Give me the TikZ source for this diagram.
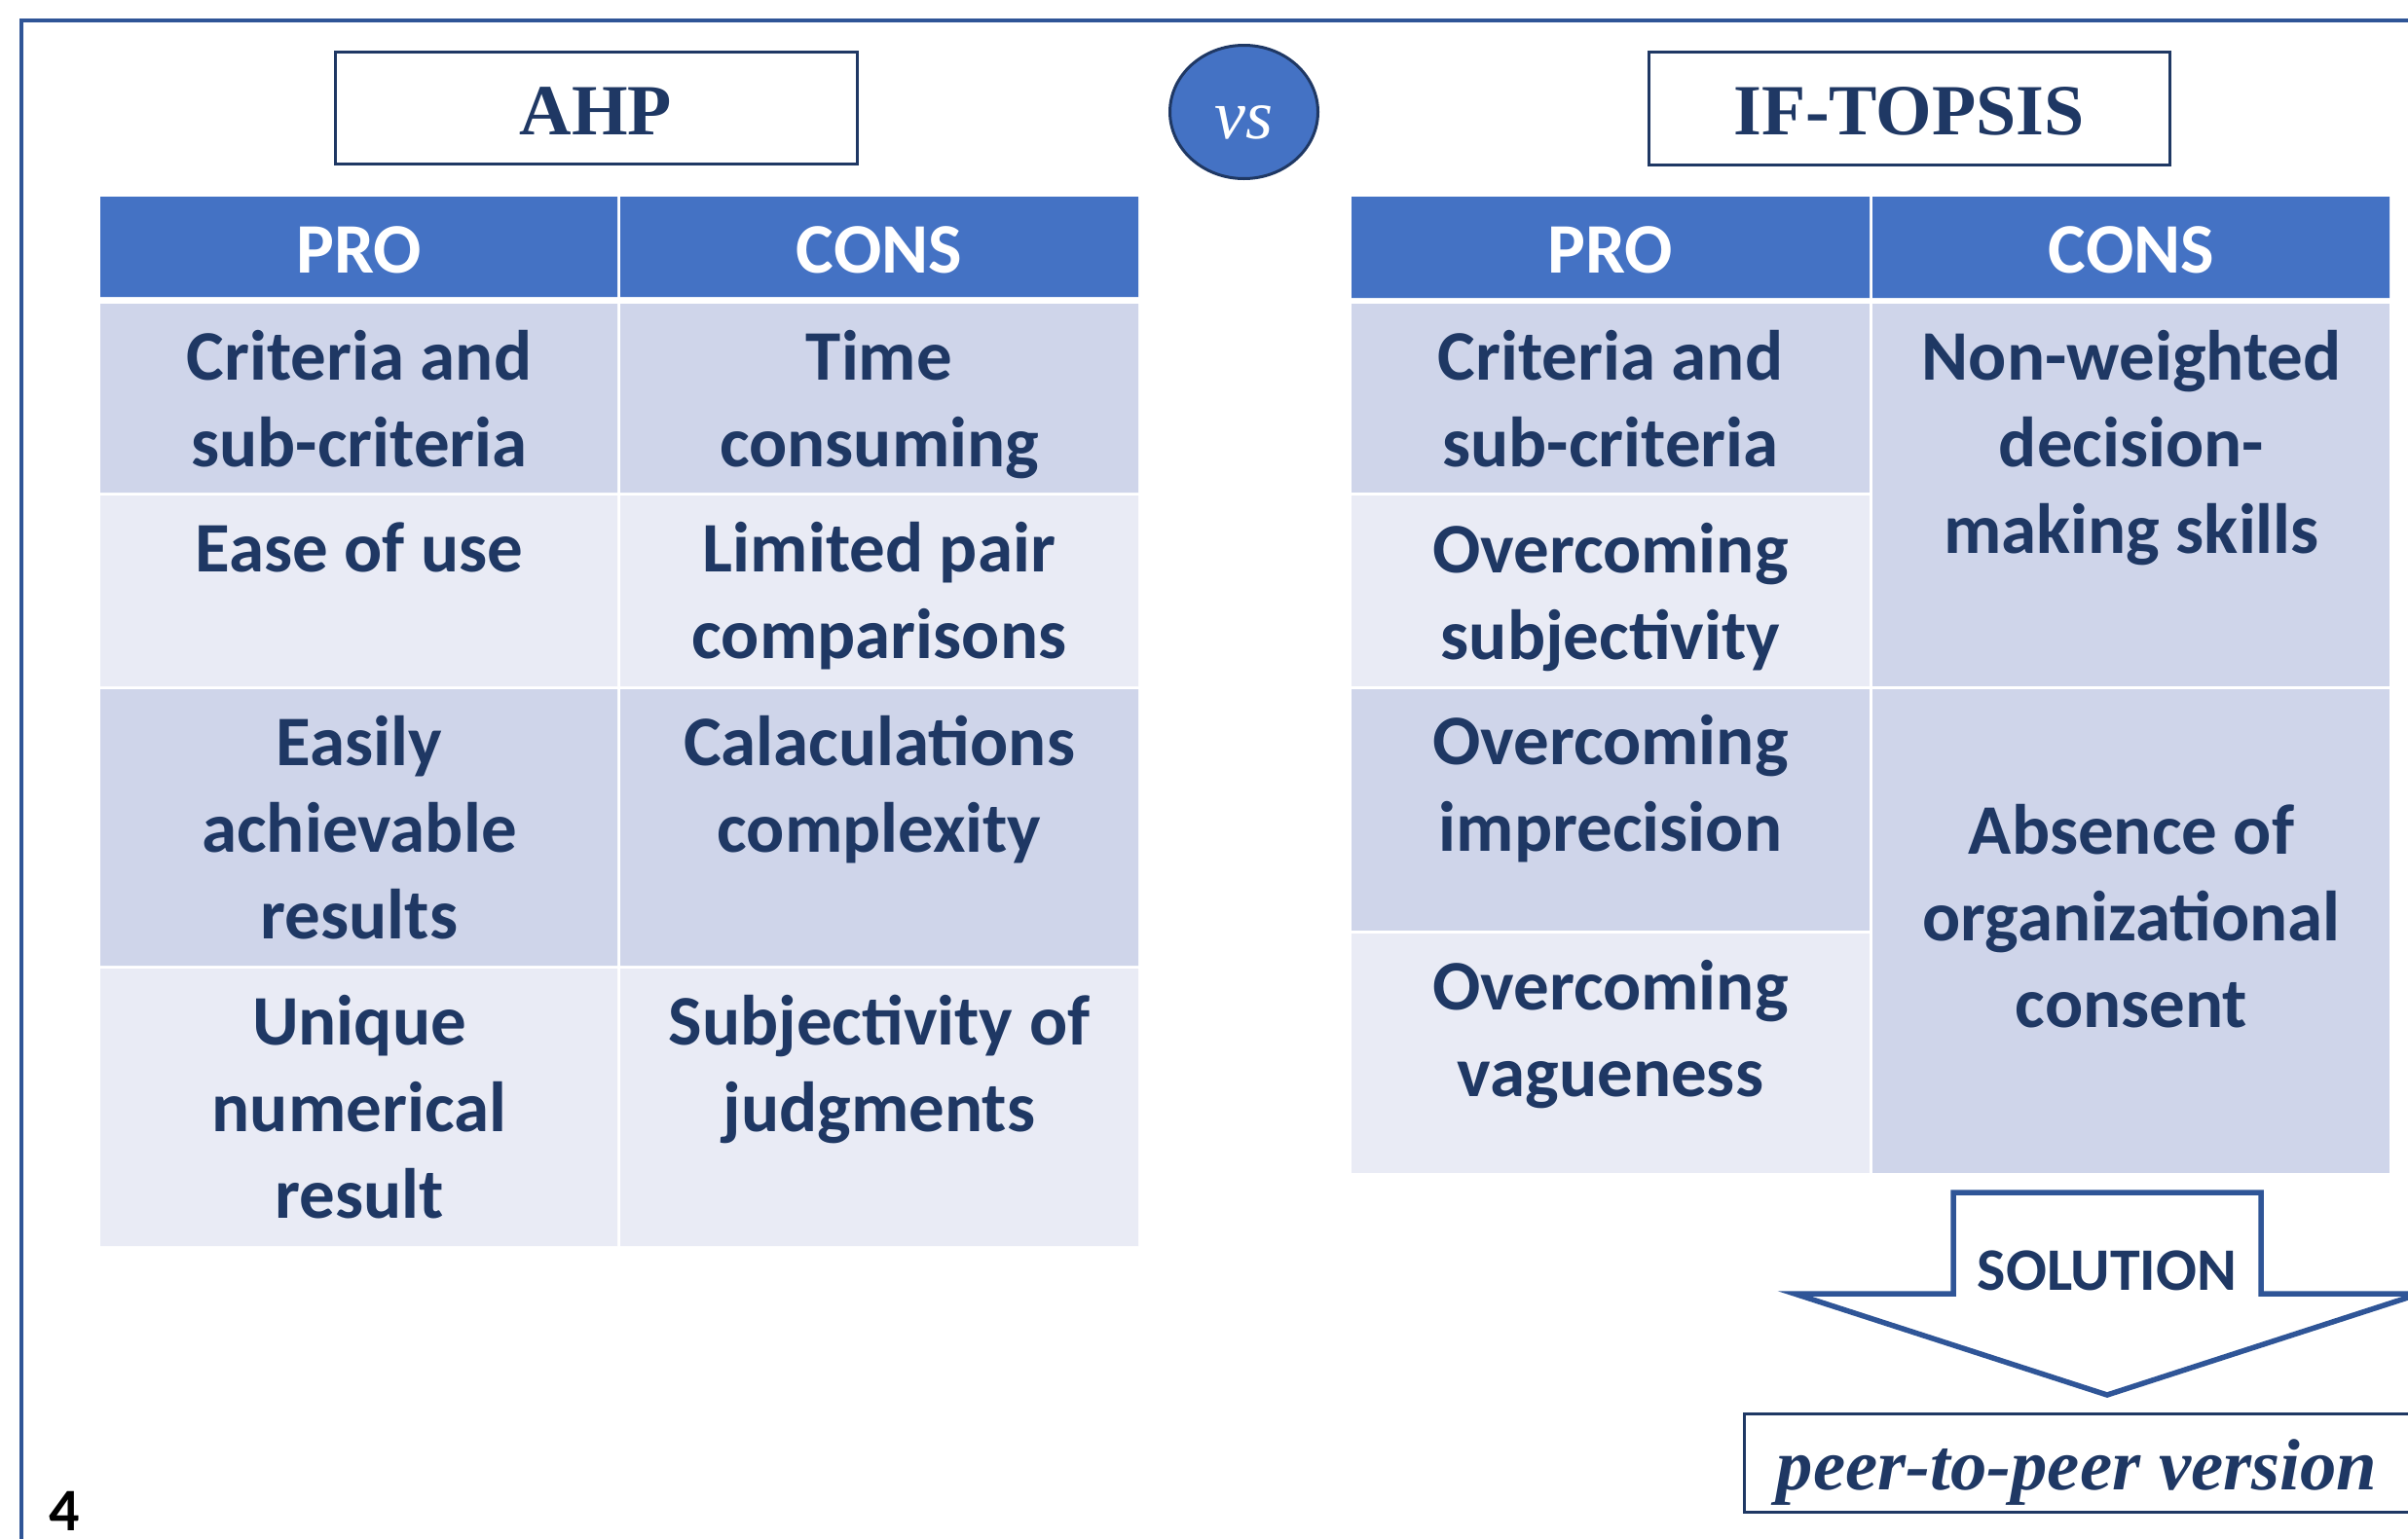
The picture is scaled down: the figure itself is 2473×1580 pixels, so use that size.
\documentclass[tikz,border=0pt]{standalone}
\usepackage{fontspec}
\setmainfont{Carlito}
\newfontfamily\tnr{Liberation Serif}
\usetikzlibrary{shapes.geometric}
\definecolor{navy}{RGB}{31,56,100}
\definecolor{hdr}{RGB}{68,114,196}
\definecolor{dk}{RGB}{207,213,234}
\definecolor{lt}{RGB}{233,235,245}
\definecolor{framec}{RGB}{47,85,151}
\newcommand\mystrut{\rule{0pt}{60pt}}
\begin{document}
\begin{tikzpicture}[x=1pt,y=-1pt,
  celltext/.style={anchor=north, inner sep=0pt, text width=500pt, align=flush center,
    font=\fontsize{73}{89}\selectfont\bfseries, text=navy},
  hdrtext/.style={anchor=base, inner sep=0pt, font=\fontsize{73}{89}\selectfont\bfseries, text=white},
  titlebox/.style={draw=navy, line width=3pt, fill=white, inner sep=0pt,
    text height=55pt, text depth=0pt, font=\fontsize{74}{89}\tnr\bfseries, text=navy}]
\useasboundingbox (0,0) rectangle (2473,1580);
\fill[white] (0,0) rectangle (2473,1580);
% frame
\draw[framec, line width=3.5pt] (22,1600) -- (22,21) -- (2490,21);
% titles
\node[titlebox, minimum width=536pt, minimum height=115pt] (ahp) at (612,110.5) {AHP};
\node[titlebox, minimum width=535pt, minimum height=116pt] (topsis) at (1960.5,111) {IF-TOPSIS};
\node[ellipse, draw=navy, fill=hdr, line width=3pt, minimum width=152pt, minimum height=137pt,
  inner sep=0pt, text height=54pt, text depth=0pt, text=white,
  font=\fontsize{72}{86}\tnr\itshape] (vs) at (1277.5,115) {vs};
% left table cells
\fill[hdr] (103,202) rectangle (634,305) (637,202) rectangle (1169,305);
\fill[dk] (103,312) rectangle (634,506) (637,312) rectangle (1169,506);
\fill[lt] (103,509) rectangle (634,705) (637,509) rectangle (1169,705);
\fill[dk] (103,708) rectangle (634,992) (637,708) rectangle (1169,992);
\fill[lt] (103,995) rectangle (634,1280) (637,995) rectangle (1169,1280);
% right table cells
\fill[hdr] (1388,202) rectangle (1920,306) (1923,202) rectangle (2454,306);
\fill[dk] (1388,312) rectangle (1920,506);
\fill[lt] (1388,509) rectangle (1920,705);
\fill[dk] (1388,708) rectangle (1920,956);
\fill[lt] (1388,959) rectangle (1920,1205);
\fill[dk] (1923,312) rectangle (2454,705);
\fill[dk] (1923,708) rectangle (2454,1205);
% left table text
\node[hdrtext] (lpro) at (369,280) {PRO};
\node[hdrtext] (lcons) at (903,280) {CONS};
\node[celltext] (l11) at (369,330) {\mystrut Criteria and\\sub-criteria};
\node[celltext] (l12) at (903,330) {\mystrut Time\\consuming};
\node[celltext] (l21) at (369,527) {\mystrut Ease of use};
\node[celltext] (l22) at (903,527) {\mystrut Limited pair\\comparisons};
\node[celltext] (l31) at (369,726) {\mystrut Easily\\achievable\\results};
\node[celltext] (l32) at (903,726) {\mystrut Calaculations\\complexity};
\node[celltext] (l41) at (369,1013) {\mystrut Unique\\numerical\\result};
\node[celltext] (l42) at (903,1013) {\mystrut Subjectivity of\\judgments};
% right table text
\node[hdrtext] (rpro) at (1654,280) {PRO};
\node[hdrtext] (rcons) at (2189,280) {CONS};
\node[celltext] (r11) at (1654,330) {\mystrut Criteria and\\sub-criteria};
\node[celltext] (r21) at (1654,528) {\mystrut Overcoming\\subjectivity};
\node[celltext] (r31) at (1654,725) {\mystrut Overcoming\\imprecision};
\node[celltext] (r41) at (1654,977) {\mystrut Overcoming\\vagueness};
\node[celltext] (r12) at (2189,330) {\mystrut Non-weighted\\decision-\\making skills};
\node[celltext] (r32) at (2189,817) {\mystrut Absence of\\organizational\\consent};
% solution arrow
\draw[framec, line width=5.5pt, fill=white, line join=miter]
  (2006,1225) -- (2322,1225) -- (2322,1329) -- (2485,1329) -- (2164,1433)
  -- (1843,1329) -- (2006,1329) -- cycle;
\node[anchor=base, inner sep=0pt, font=\fontsize{62}{74}\selectfont\bfseries, text=navy]
  (sol) at (2164,1325) {SOLUTION};
% peer-to-peer box
\draw[navy, line width=3pt] (2495,1452) -- (1791,1452) -- (1791,1553) -- (2495,1553);
\node[anchor=base, inner sep=0pt, font=\fontsize{74.7}{90}\tnr\bfseries\itshape, text=navy]
  (peer) at (2133,1530) {peer-to-peer version};
% page number
\node[anchor=base west, inner sep=0pt, font=\fontsize{62}{75}\selectfont\bfseries, text=black]
  (num) at (50,1572) {4};
\end{tikzpicture}
\end{document}
